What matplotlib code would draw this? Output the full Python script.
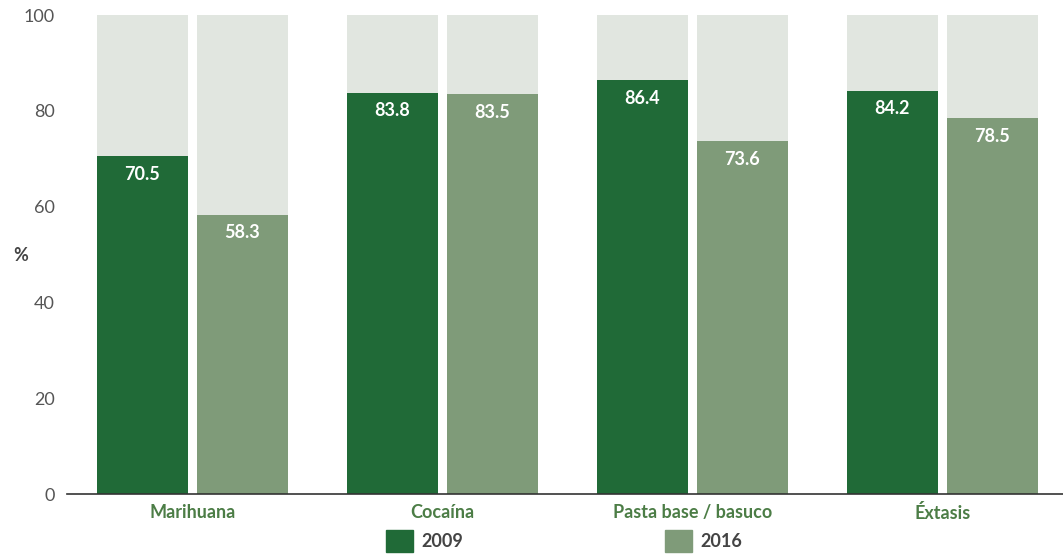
import matplotlib
matplotlib.use("Agg")
import matplotlib.pyplot as plt
import numpy as np
from matplotlib.patches import Patch

plt.rcParams["font.family"] = ["Lato", "DejaVu Sans"]

categories = ["Marihuana", "Cocaína", "Pasta base / basuco", "Éxtasis"]
years = ["2009", "2016"]
values_2009 = [70.5, 83.8, 86.4, 84.2]
values_2016 = [58.3, 83.5, 73.6, 78.5]
yticks = [0, 20, 40, 60, 80, 100]

DARK = "#206A37"
LIGHT = "#7F9B79"
BG = "#E1E6E0"
CAT_COLOR = "#4C7D46"
TXT = "#555555"

fig = plt.figure(figsize=(10.63, 5.56), dpi=100)
ax = fig.add_axes([0.063, 0.1115, 0.937, 0.8615])

x = np.arange(len(categories))
w = 0.364
off = 0.2

for vals, sign, col in [(values_2009, -1, DARK), (values_2016, 1, LIGHT)]:
    pos = x + sign * off
    ax.bar(pos, [100] * len(vals), width=w, color=BG, zorder=1)
    ax.bar(pos, vals, width=w, color=col, zorder=2)
    for p, v in zip(pos, vals):
        ax.text(p, v - 3.8, f"{v:.1f}", ha="center", va="center",
                color="white", fontsize=13, fontweight="bold", zorder=3)

ax.set_xlim(-0.502, 3.482)
ax.set_ylim(0, 100)
ax.set_yticks(yticks)
ax.set_yticklabels([str(t) for t in yticks], color=TXT, fontsize=13)
ax.set_xticks(x)
ax.set_xticklabels(categories, color=CAT_COLOR, fontsize=13, fontweight="bold")
ax.tick_params(axis="both", length=0)
ax.tick_params(axis="y", pad=9)
ax.tick_params(axis="x", pad=7)
for s in ["top", "right", "left"]:
    ax.spines[s].set_visible(False)
ax.spines["bottom"].set_color("#333333")
ax.spines["bottom"].set_linewidth(1.2)
ax.spines["bottom"].set_zorder(4)

fig.text(0.012, 0.54, "%", color="#444444", fontsize=13, fontweight="bold",
         ha="left", va="center")

handles = [Patch(color=DARK, label=years[0]), Patch(color=LIGHT, label=years[1])]
leg = fig.legend(handles=handles, ncol=2, loc="lower left",
                 bbox_to_anchor=(0.348, -0.022), frameon=False,
                 handlelength=1.5, handleheight=1.5, handletextpad=0.45,
                 columnspacing=11.2, prop={"family": ["Lato", "DejaVu Sans"],
                                           "weight": "bold", "size": 13})
for t in leg.get_texts():
    t.set_color("#444444")

fig.savefig("out.png", dpi=100)
